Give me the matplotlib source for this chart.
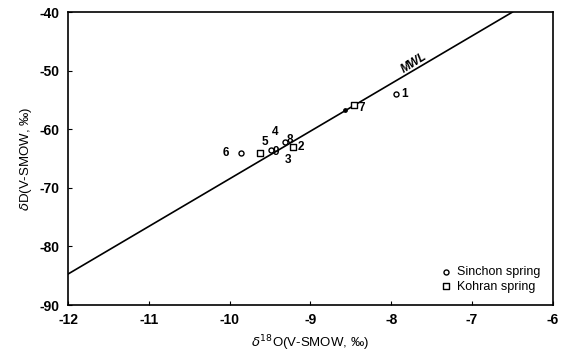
import matplotlib.pyplot as plt

# MWL endpoints (dD = a * d18O + b)
mwl_x = [-12.0, -6.5]
mwl_y = [-84.7, -40.0]

# Sinchon spring (circles)
sin_x = [-7.94, -9.86, -9.32, -9.49]
sin_y = [-53.9, -64.0, -62.1, -63.5]

# Kohran spring (squares)
koh_x = [-8.46, -9.62, -9.21]
koh_y = [-55.9, -64.0, -63.1]

# small solid point on the line
dot_x = [-8.57]
dot_y = [-56.7]

# sample labels (text, x, y)
lab_txt = ["1", "7", "6", "5", "9", "4", "8", "2", "3"]
lab_x = [-7.84, -8.37, -10.05, -9.56, -9.43, -9.44, -9.26, -9.12, -9.28]
lab_y = [-53.9, -56.3, -64.0, -62.2, -63.9, -60.5, -61.9, -63.0, -65.3]

plt.rcParams["font.family"] = ["Liberation Sans", "DejaVu Sans"]
plt.rcParams["axes.unicode_minus"] = False

fig = plt.figure(figsize=(5.67, 3.56), dpi=100)
ax = fig.add_axes([0.12, 0.143, 0.855, 0.823])

ax.plot(mwl_x, mwl_y, color="black", linewidth=1.2)
ax.scatter(sin_x, sin_y, marker="o", s=13, facecolors="white",
           edgecolors="black", linewidths=1.0, zorder=3, label="Sinchon spring")
ax.scatter(koh_x, koh_y, marker="s", s=18, facecolors="white",
           edgecolors="black", linewidths=1.0, zorder=3, label="Kohran spring")
ax.scatter(dot_x, dot_y, marker="o", s=6, color="black", zorder=3)

for t, x, y in zip(lab_txt, lab_x, lab_y):
    ax.text(x, y, t, fontsize=8.5, fontweight="bold", ha="center", va="center")

ax.text(-7.72, -48.7, "MWL", fontsize=8.5, fontweight="bold", style="italic",
        rotation=32, ha="center", va="center")

ax.set_xlim(-12, -6)
ax.set_ylim(-90, -40)
ax.set_xticks(range(-12, -5))
ax.set_yticks(range(-90, -39, 10))
ax.tick_params(direction="in", length=3, labelsize=10, pad=6)
for lbl in ax.get_xticklabels() + ax.get_yticklabels():
    lbl.set_fontweight("bold")
for s in ax.spines.values():
    s.set_linewidth(1.2)

ax.set_xlabel(r"$\delta^{18}$O(V-SMOW, ‰)", fontsize=9.5)
ax.set_ylabel(r"$\delta$D(V-SMOW, ‰)", fontsize=9.5)

ax.legend(loc="lower right", frameon=False, fontsize=9, handletextpad=0.4,
          borderaxespad=0.6, labelspacing=0.2, handlelength=1.0)

fig.savefig("out.png", dpi=100)
